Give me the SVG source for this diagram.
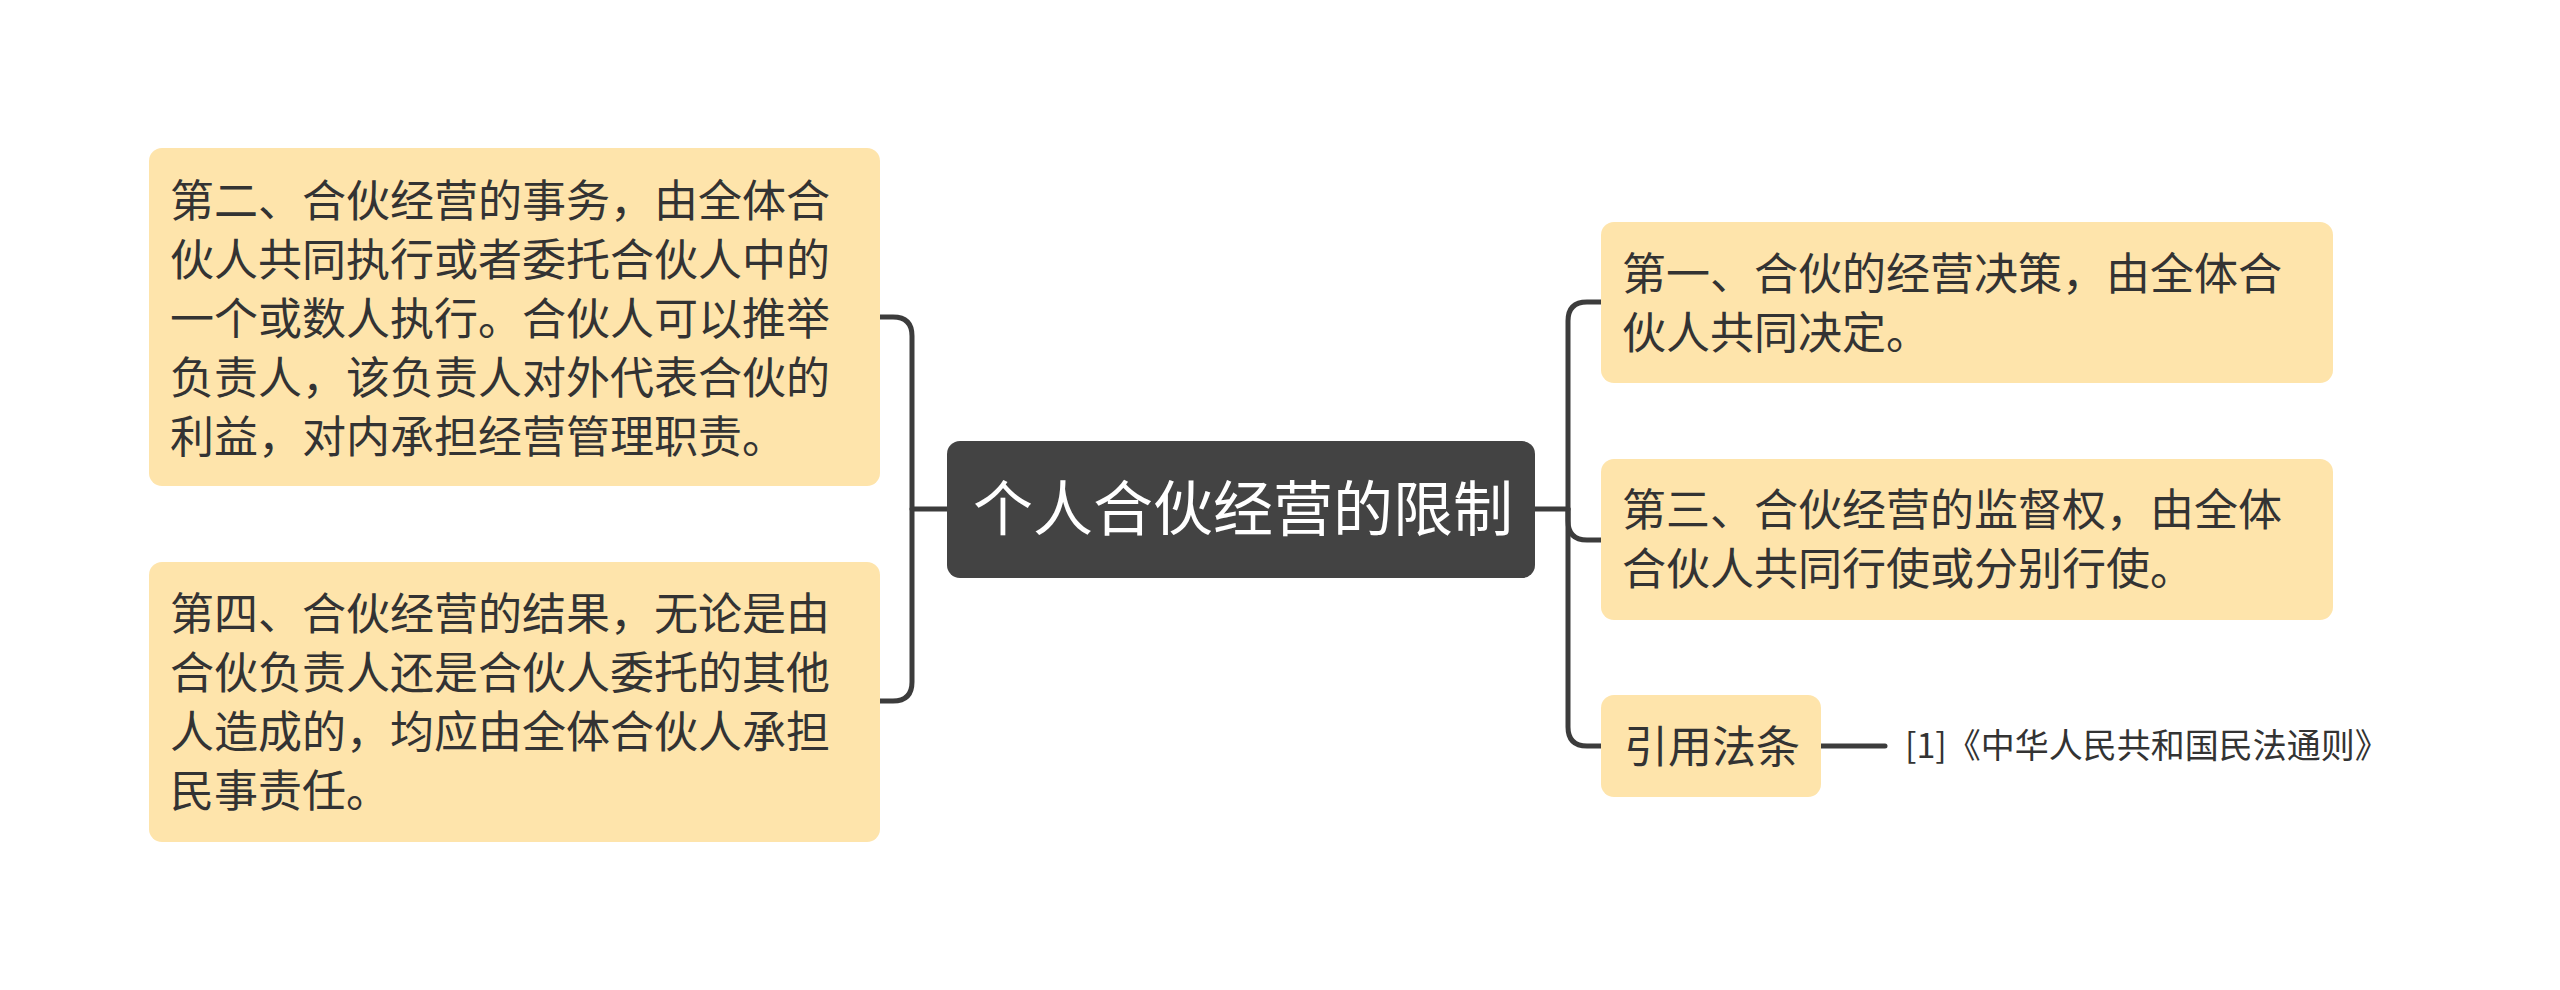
<svg xmlns="http://www.w3.org/2000/svg" width="2560" height="990" viewBox="0 0 2560 990">
<style>
.box{fill:#FEE4AB;}
.root{fill:#434343;}
.t{font-family:"Noto Sans CJK SC","Noto Sans",sans-serif;font-size:44px;fill:#333333;}
.rt{font-family:"Noto Sans CJK SC","Noto Sans",sans-serif;font-size:60px;fill:#FFFFFF;}
.ct{font-family:"Noto Sans CJK SC","Noto Sans",sans-serif;font-size:34px;fill:#333333;}
.ln{fill:none;stroke:#3C3C3C;stroke-width:5;stroke-linecap:round;stroke-linejoin:round;}
</style>
<rect width="2560" height="990" fill="#FFFFFF"/>
<g id="connectors">
<path class="ln" d="M947 509 H912"/>
<path class="ln" d="M880 317 H893 Q912 317 912 336 V682 Q912 701 893 701 H880"/>
<path class="ln" d="M1535 509 H1568"/>
<path class="ln" d="M1601 302 H1587 Q1568 302 1568 321 V727 Q1568 746 1587 746 H1601"/>
<path class="ln" d="M1568 509 V521 Q1568 540 1587 540 H1601"/>
<path class="ln" d="M1821 746 H1885"/>
</g>
<g id="root">
<rect class="root" x="947" y="441" width="588" height="137" rx="13"/>
<text class="rt" x="973" y="531">个人合伙经营的限制</text>
</g>
<g id="node-left1">
<rect class="box" x="149" y="148" width="731" height="338" rx="13"/>
<text class="t" x="170" y="217">第二、合伙经营的事务，由全体合</text>
<text class="t" x="170" y="276">伙人共同执行或者委托合伙人中的</text>
<text class="t" x="170" y="335">一个或数人执行。合伙人可以推举</text>
<text class="t" x="170" y="394">负责人，该负责人对外代表合伙的</text>
<text class="t" x="170" y="453">利益，对内承担经营管理职责。</text>
</g>
<g id="node-left2">
<rect class="box" x="149" y="562" width="731" height="280" rx="13"/>
<text class="t" x="170" y="630">第四、合伙经营的结果，无论是由</text>
<text class="t" x="170" y="689">合伙负责人还是合伙人委托的其他</text>
<text class="t" x="170" y="748">人造成的，均应由全体合伙人承担</text>
<text class="t" x="170" y="807">民事责任。</text>
</g>
<g id="node-right1">
<rect class="box" x="1601" y="222" width="732" height="161" rx="13"/>
<text class="t" x="1622" y="290">第一、合伙的经营决策，由全体合</text>
<text class="t" x="1622" y="349">伙人共同决定。</text>
</g>
<g id="node-right2">
<rect class="box" x="1601" y="459" width="732" height="161" rx="13"/>
<text class="t" x="1622" y="526">第三、合伙经营的监督权，由全体</text>
<text class="t" x="1622" y="585">合伙人共同行使或分别行使。</text>
</g>
<g id="node-right3">
<rect class="box" x="1601" y="695" width="220" height="102" rx="13"/>
<text class="t" x="1624" y="763">引用法条</text>
</g>
<g id="citation">
<text class="ct" x="1905" y="758">[1]《中华人民共和国民法通则》</text>
</g>
</svg>
